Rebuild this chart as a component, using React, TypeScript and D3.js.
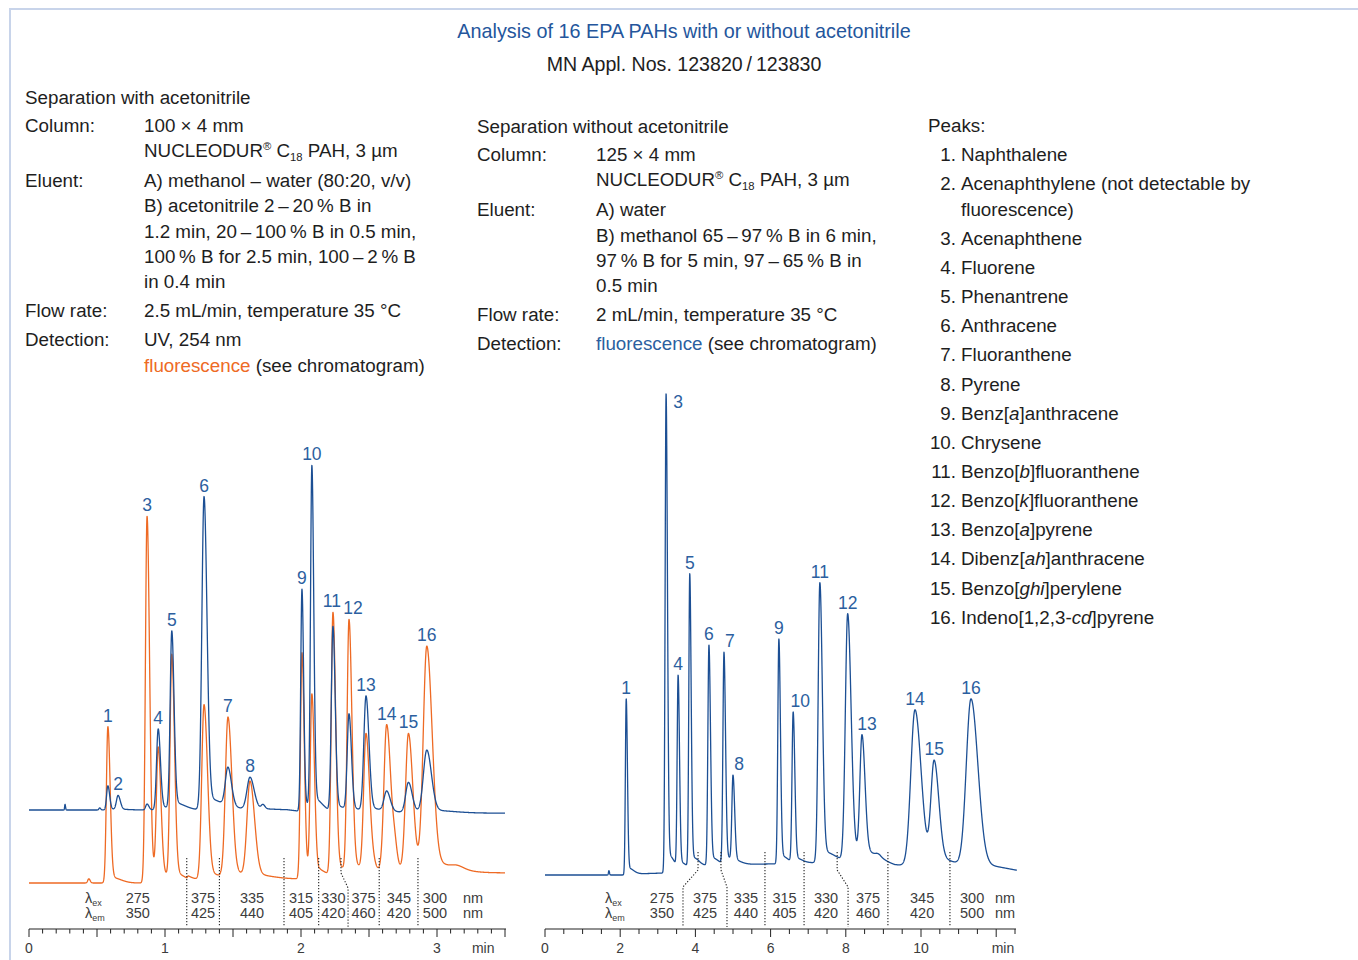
import React from "react";
import * as d3 from "d3";

const FONT = "'Liberation Sans', Arial, Helvetica, sans-serif";
const BLUE_TRACE = "#1c4f94";
const ORANGE_TRACE = "#ee6a24";
const LABEL_BLUE = "#2c5f9f";
const TITLE_BLUE = "#24569c";
const TEXT = "#1e1e1e";
const GREY = "#3c3c3c";
const BODY = 18.8;

// ---------- text content ----------
const titleText = "Analysis of 16 EPA PAHs with or without acetonitrile";
const subtitleText = "MN Appl. Nos. 123820\u2009/\u2009123830";

const leftInfoTitle = "Separation with acetonitrile";
const leftInfoLabels = ["Column:", "", "Eluent:", "", "", "", "", "Flow rate:", "Detection:", ""];
const leftInfoValues = [
  "100 × 4 mm",
  "NUCLEODUR^®^ C_18_ PAH, 3 µm",
  "A) methanol – water (80:20, v/v)",
  "B) acetonitrile 2\u2009–\u200920\u2009% B in",
  "1.2 min, 20\u2009–\u2009100\u2009% B in 0.5 min,",
  "100\u2009% B for 2.5 min, 100\u2009–\u20092\u2009% B",
  "in 0.4 min",
  "2.5 mL/min, temperature 35 °C",
  "UV, 254 nm",
  "{fluorescence} (see chromatogram)",
];
const leftInfoRowY = [132, 157, 187, 212, 238, 263, 288, 317, 346, 372];

const midInfoTitle = "Separation without acetonitrile";
const midInfoLabels = ["Column:", "", "Eluent:", "", "", "", "Flow rate:", "Detection:"];
const midInfoValues = [
  "125 × 4 mm",
  "NUCLEODUR^®^ C_18_ PAH, 3 µm",
  "A) water",
  "B) methanol 65\u2009–\u200997\u2009% B in 6 min,",
  "97\u2009% B for 5 min, 97\u2009–\u200965\u2009% B in",
  "0.5 min",
  "2 mL/min, temperature 35 °C",
  "{fluorescence} (see chromatogram)",
];
const midInfoRowY = [161, 186, 216, 242, 267, 292, 321, 350];

const peakNumbers = d3.range(1, 17);
const peakNames = [
  "Naphthalene",
  "Acenaphthylene (not detectable by",
  "Acenaphthene",
  "Fluorene",
  "Phenantrene",
  "Anthracene",
  "Fluoranthene",
  "Pyrene",
  "Benz[*a*]anthracene",
  "Chrysene",
  "Benzo[*b*]fluoranthene",
  "Benzo[*k*]fluoranthene",
  "Benzo[*a*]pyrene",
  "Dibenz[*ah*]anthracene",
  "Benzo[*ghi*]perylene",
  "Indeno[1,2,3-*cd*]pyrene",
];
const peakNameContinuation = "fluorescence)";
const peakRowY = [161, 190, 245, 274, 303, 332, 361, 391, 420, 449, 478, 507, 536, 565, 595, 624];

// ---------- left chromatogram (with acetonitrile), time in min ----------
const leftRT = [0.58, 0.655, 0.868, 0.95, 1.05, 1.287, 1.463, 1.625, 2.007, 2.08, 2.235, 2.353, 2.478, 2.63, 2.79, 2.925];
const leftUV = [6.9, 4.0, 1.7, 23.1, 50.6, 89.4, 11.1, 9.1, 63.4, 97.6, 52.9, 27.4, 32.9, 5.7, 8.6, 17.7];
const leftFLD = [44.6, 0, 104.6, 36.0, 64.0, 50, 45.5, 27.0, 64.5, 51.0, 75.0, 71.8, 39.0, 41.9, 38.9, 63.4];
const leftSigUV = [0.0095, 0.012, 0.01, 0.012, 0.012, 0.016, 0.019, 0.022, 0.009, 0.01, 0.012, 0.013, 0.016, 0.019, 0.02, 0.025];
const leftSigFLD = [0.011, 0.012, 0.012, 0.013, 0.013, 0.017, 0.019, 0.022, 0.011, 0.012, 0.013, 0.014, 0.017, 0.02, 0.021, 0.026];
const leftUVBaseT = [0, 1.9, 2.1, 3.5];
const leftUVBaseV = [0, 0, -0.8, -0.9];
const leftUVMinorT = [0.265, 0.52, 1.72];
const leftUVMinorH = [1.6, 0.6, 1.2];
const leftUVMinorS = [0.003, 0.006, 0.012];
const leftFLDBaseT = [0, 1.16, 1.17, 1.4, 1.41, 1.875, 2.13, 2.14, 2.32, 2.58, 2.86, 3.5];
const leftFLDBaseV = [0, 0, 0.8, 0.8, 1.1, 1.1, 1.2, 1.7, 1.9, 2.4, 2.9, 2.9];
const leftFLDMinorT = [0.44, 2.53, 2.69, 3.15];
const leftFLDMinorH = [1.2, 1.5, 5.0, 0.8];
const leftFLDMinorS = [0.008, 0.015, 0.015, 0.04];
const leftSwitchTop = [1.16, 1.4, 1.875, 2.13, 2.294, 2.575, 2.86];
const leftSwitchBottom = [1.16, 1.4, 1.875, 2.13, 2.346, 2.575, 2.86];
const leftExLabels = ["275", "375", "335", "315", "330", "375", "345", "300"];
const leftEmLabels = ["350", "425", "440", "405", "420", "460", "420", "500"];
const leftTableT = [0.8, 1.28, 1.64, 2.0, 2.238, 2.46, 2.72, 2.985];
const leftTickLabels = ["0", "1", "2", "3"];

// ---------- right chromatogram (without acetonitrile) ----------
const rightRT = [2.16, 2.9, 3.22, 3.54, 3.85, 4.36, 4.76, 5.0, 6.22, 6.6, 7.31, 8.05, 8.43, 9.84, 10.35, 11.33];
const rightFLD = [36.8, 0, 100, 40.0, 61.2, 46.0, 44.2, 17.8, 47.0, 31.4, 58.4, 51.5, 24.8, 32.6, 21.0, 35.2];
const rightSig = [0.022, 0.03, 0.025, 0.025, 0.025, 0.028, 0.028, 0.03, 0.028, 0.03, 0.045, 0.062, 0.055, 0.11, 0.085, 0.125];
const rightBaseT = [0, 2.15, 2.3, 3.1, 3.95, 4.07, 4.68, 5.85, 6.89, 7.5, 7.77, 8.9, 9.12, 9.3, 10.77, 11.9, 12.55];
const rightBaseV = [0, 0, 0.2, 0.4, 1.5, 1.9, 2.1, 2.3, 2.4, 2.8, 2.9, 3.1, 2.5, 2.1, 1.6, 0.7, 0.4];
const rightMinorT = [1.7, 8.85];
const rightMinorH = [0.9, 0.4];
const rightMinorS = [0.012, 0.06];
const rightSwitchTop = [4.07, 4.68, 5.85, 6.89, 7.77, 9.12, 10.77];
const rightSwitchBottom = [3.67, 4.84, 5.85, 6.89, 8.06, 9.12, 10.77];
const rightExLabels = ["275", "375", "335", "315", "330", "375", "345", "300"];
const rightEmLabels = ["350", "425", "440", "405", "420", "460", "420", "500"];
const rightTableT = [3.11, 4.255, 5.345, 6.37, 7.475, 8.59, 10.03, 11.36];
const rightTickLabels = ["0", "2", "4", "6", "8", "10"];

// label nudges (px) for crowded peaks
const leftLabelDx = [0, 0, 0, 0, 0, 0, 0, 0, 0, 0, -1, 4, 0, 0, 0, 0];
const rightLabelDx = [0, 0, 12, 0, 0, 0, 6, 6, 0, 7, 0, 0, 5, 0, 0, 0];

// ---------- helpers ----------
function interp(T: number[], V: number[], t: number) {
  if (t <= T[0]) return V[0];
  for (let i = 1; i < T.length; i++) {
    if (t <= T[i]) {
      const f = (t - T[i - 1]) / (T[i] - T[i - 1]);
      return V[i - 1] + f * (V[i] - V[i - 1]);
    }
  }
  return V[V.length - 1];
}

function asymGauss(dt: number, h: number, sl: number, sr: number) {
  const s = dt < 0 ? sl : sr;
  return h * Math.exp(-(dt * dt) / (2 * s * s));
}

type TraceSpec = {
  rt: number[]; h: number[]; sig: number[]; tail: number;
  baseT: number[]; baseV: number[];
  mT: number[]; mH: number[]; mS: number[];
};

function signal(spec: TraceSpec, t: number) {
  let y = interp(spec.baseT, spec.baseV, t);
  for (let i = 0; i < spec.rt.length; i++) {
    if (spec.h[i] <= 0) continue;
    const dt = t - spec.rt[i];
    const s = spec.sig[i];
    y += asymGauss(dt, spec.h[i], s, s * spec.tail);
    // low, slow tail behind the apex
    y += asymGauss(dt - 2.5 * s, spec.h[i] * 0.035, s, s * 6);
  }
  for (let i = 0; i < spec.mT.length; i++) {
    y += asymGauss(t - spec.mT[i], spec.mH[i], spec.mS[i], spec.mS[i] * 1.2);
  }
  return y;
}

function sample(spec: TraceSpec, t0: number, t1: number, n: number): [number, number][] {
  return d3.range(n + 1).map((i) => {
    const t = t0 + ((t1 - t0) * i) / n;
    return [t, signal(spec, t)] as [number, number];
  });
}

function Rich({ text, x, y, size, fill, hi, anchor }: { text: string; x: number; y: number; size: number; fill: string; hi?: string; anchor?: string }) {
  const parts = text.split(/(\^[^^]*\^|_[^_]*_|\*[^*]*\*|\{[^}]*\})/).filter((p) => p.length > 0);
  let cur = 0;
  return (
    <text x={x} y={y} fontSize={size} fill={fill} fontFamily={FONT} textAnchor={anchor || "start"}>
      {parts.map((p, i) => {
        let shift = 0;
        let content = p;
        let fs: number | undefined = undefined;
        let style: string | undefined = undefined;
        let col: string | undefined = undefined;
        if (p.startsWith("^")) { shift = -7; content = p.slice(1, -1); fs = size * 0.6; }
        else if (p.startsWith("_")) { shift = 4; content = p.slice(1, -1); fs = size * 0.6; }
        else if (p.startsWith("*")) { content = p.slice(1, -1); style = "italic"; }
        else if (p.startsWith("{")) { content = p.slice(1, -1); col = hi; }
        const dy = shift - cur;
        cur = shift;
        return (
          <tspan key={i} dy={dy !== 0 ? dy : undefined} fontSize={fs} fontStyle={style} fill={col}>
            {content}
          </tspan>
        );
      })}
    </text>
  );
}

function Lambda({ x, y, sub }: { x: number; y: number; sub: string }) {
  return (
    <text x={x} y={y} fontSize={14.5} fill={GREY} fontFamily={FONT}>
      λ<tspan fontSize={9} dy={3}>{sub}</tspan>
    </text>
  );
}

function dottedPath(xTop: number, xBot: number, yTop: number, yK1: number, yK2: number, yBot: number) {
  if (Math.abs(xTop - xBot) < 0.5) return `M${xTop},${yTop}V${yBot}`;
  return `M${xTop},${yTop}V${yK1}L${xBot},${yK2}V${yBot}`;
}

export default function App() {
  // scales
  const lx = d3.scaleLinear().domain([0, 3.5]).range([29, 505]);
  const lyUV = d3.scaleLinear().domain([0, 100]).range([810, 460]);
  const lyFLD = d3.scaleLinear().domain([0, 100]).range([883, 533]);
  const rx = d3.scaleLinear().domain([0, 12.5]).range([545, 1015]);
  const ry = d3.scaleLinear().domain([0, 100]).range([875, 397]);

  const uvSpec: TraceSpec = { rt: leftRT, h: leftUV, sig: leftSigUV, tail: 1.35, baseT: leftUVBaseT, baseV: leftUVBaseV, mT: leftUVMinorT, mH: leftUVMinorH, mS: leftUVMinorS };
  const fldSpec: TraceSpec = { rt: leftRT, h: leftFLD, sig: leftSigFLD, tail: 1.5, baseT: leftFLDBaseT, baseV: leftFLDBaseV, mT: leftFLDMinorT, mH: leftFLDMinorH, mS: leftFLDMinorS };
  const rSpec: TraceSpec = { rt: rightRT, h: rightFLD, sig: rightSig, tail: 1.45, baseT: rightBaseT, baseV: rightBaseV, mT: rightMinorT, mH: rightMinorH, mS: rightMinorS };

  const uvData = sample(uvSpec, 0, 3.5, 4000);
  const fldData = sample(fldSpec, 0, 3.5, 4000);
  const rData = sample(rSpec, 0, 12.55, 4000);

  const lineUV = d3.line<[number, number]>().x((d) => lx(d[0])).y((d) => lyUV(d[1]));
  const lineFLD = d3.line<[number, number]>().x((d) => lx(d[0])).y((d) => lyFLD(d[1]));
  const lineR = d3.line<[number, number]>().x((d) => rx(d[0])).y((d) => ry(d[1]));

  const peakTop = (spec: TraceSpec, i: number) => {
    let m = -Infinity;
    for (let k = -20; k <= 20; k++) m = Math.max(m, signal(spec, spec.rt[i] + (k * spec.sig[i]) / 20));
    return m;
  };

  const leftLabels = peakNumbers.map((n, i) => {
    const yUV = lyUV(peakTop(uvSpec, i));
    const yF = leftFLD[i] > 0 ? lyFLD(peakTop(fldSpec, i)) : Infinity;
    const top = Math.min(yUV, yF);
    return { n, x: lx(leftRT[i]) + leftLabelDx[i], y: top - 5 };
  });
  const rightLabels = peakNumbers
    .map((n, i) => {
      if (rightFLD[i] <= 0) return null;
      const top = ry(peakTop(rSpec, i));
      const y = n === 3 ? top + 14 : top - 5;
      return { n, x: rx(rightRT[i]) + rightLabelDx[i], y };
    })
    .filter((d) => d !== null) as { n: number; x: number; y: number }[];

  const axisY = 929;
  const leftTicks = d3.range(0, 36).map((k) => k / 10);
  const rightTicks = d3.range(0, 26).map((k) => k / 2);

  return (
    <svg width={1358} height={960} viewBox="0 0 1358 960" style={{ position: "absolute", left: 0, top: 0, display: "block", background: "#fff" }} fontFamily={FONT}>
      {/* frame */}
      <path d="M10,960V9H1358" fill="none" stroke="#c8d4ea" strokeWidth={2} />

      {/* titles */}
      <text x={684} y={38} textAnchor="middle" fontSize={19.8} fill={TITLE_BLUE}>{titleText}</text>
      <text x={684} y={71} textAnchor="middle" fontSize={19.6} fill={TEXT}>{subtitleText}</text>

      {/* left info block */}
      <text x={25} y={104} fontSize={BODY} fill={TEXT}>{leftInfoTitle}</text>
      {leftInfoValues.map((v, i) => (
        <g key={"li" + i}>
          {leftInfoLabels[i] && <text x={25} y={leftInfoRowY[i]} fontSize={BODY} fill={TEXT}>{leftInfoLabels[i]}</text>}
          <Rich text={v} x={144} y={leftInfoRowY[i]} size={BODY} fill={TEXT} hi={ORANGE_TRACE} />
        </g>
      ))}

      {/* middle info block */}
      <text x={477} y={133} fontSize={BODY} fill={TEXT}>{midInfoTitle}</text>
      {midInfoValues.map((v, i) => (
        <g key={"mi" + i}>
          {midInfoLabels[i] && <text x={477} y={midInfoRowY[i]} fontSize={BODY} fill={TEXT}>{midInfoLabels[i]}</text>}
          <Rich text={v} x={596} y={midInfoRowY[i]} size={BODY} fill={TEXT} hi={LABEL_BLUE} />
        </g>
      ))}

      {/* peaks list */}
      <text x={928} y={132} fontSize={BODY} fill={TEXT}>Peaks:</text>
      {peakNames.map((name, i) => (
        <g key={"pk" + i}>
          <text x={956} y={peakRowY[i]} fontSize={BODY} fill={TEXT} textAnchor="end">{peakNumbers[i] + "."}</text>
          <Rich text={name} x={961} y={peakRowY[i]} size={BODY} fill={TEXT} />
        </g>
      ))}
      <text x={961} y={216} fontSize={BODY} fill={TEXT}>{peakNameContinuation}</text>

      {/* left chromatogram */}
      <path d={lineFLD(fldData) || ""} fill="none" stroke={ORANGE_TRACE} strokeWidth={1.3} strokeLinejoin="round" />
      <path d={lineUV(uvData) || ""} fill="none" stroke={BLUE_TRACE} strokeWidth={1.3} strokeLinejoin="round" />
      {leftLabels.map((d) => (
        <text key={"ll" + d.n} x={d.x} y={d.y} textAnchor="middle" fontSize={17.5} fill={LABEL_BLUE}>{d.n}</text>
      ))}
      {leftSwitchTop.map((t, i) => (
        <path key={"lsw" + i} d={dottedPath(lx(t), lx(leftSwitchBottom[i]), 858, 873, 888, 927)} fill="none" stroke="#222" strokeWidth={1.1} strokeDasharray="1.3 1.7" />
      ))}
      <Lambda x={85} y={903} sub="ex" />
      <Lambda x={85} y={918} sub="em" />
      {leftTableT.map((t, i) => (
        <g key={"lt" + i}>
          <text x={lx(t)} y={903} textAnchor="middle" fontSize={14.5} fill={GREY}>{leftExLabels[i]}</text>
          <text x={lx(t)} y={918} textAnchor="middle" fontSize={14.5} fill={GREY}>{leftEmLabels[i]}</text>
        </g>
      ))}
      <text x={463} y={903} fontSize={14.5} fill={GREY}>nm</text>
      <text x={463} y={918} fontSize={14.5} fill={GREY}>nm</text>
      <line x1={lx(0)} x2={lx(3.5) + 1} y1={axisY} y2={axisY} stroke="#222" strokeWidth={1.2} />
      {leftTicks.map((t) => {
        const major = Math.abs(t * 2 - Math.round(t * 2)) < 1e-6;
        return <line key={"ltk" + t} x1={lx(t)} x2={lx(t)} y1={axisY} y2={axisY + (major ? 8 : 4.5)} stroke="#222" strokeWidth={1} />;
      })}
      {leftTickLabels.map((s, i) => (
        <text key={"ltl" + s} x={lx(i)} y={953} textAnchor="middle" fontSize={14} fill={GREY}>{s}</text>
      ))}
      <text x={lx(3.34)} y={953} textAnchor="middle" fontSize={14} fill={GREY}>min</text>

      {/* right chromatogram */}
      <path d={lineR(rData) || ""} fill="none" stroke={BLUE_TRACE} strokeWidth={1.3} strokeLinejoin="round" />
      {rightLabels.map((d) => (
        <text key={"rl" + d.n} x={d.x} y={d.y} textAnchor="middle" fontSize={17.5} fill={LABEL_BLUE}>{d.n}</text>
      ))}
      {rightSwitchTop.map((t, i) => (
        <path key={"rsw" + i} d={dottedPath(rx(t), rx(rightSwitchBottom[i]), 852, 870, 887, 927)} fill="none" stroke="#222" strokeWidth={1.1} strokeDasharray="1.3 1.7" />
      ))}
      <Lambda x={605} y={903} sub="ex" />
      <Lambda x={605} y={918} sub="em" />
      {rightTableT.map((t, i) => (
        <g key={"rt" + i}>
          <text x={rx(t)} y={903} textAnchor="middle" fontSize={14.5} fill={GREY}>{rightExLabels[i]}</text>
          <text x={rx(t)} y={918} textAnchor="middle" fontSize={14.5} fill={GREY}>{rightEmLabels[i]}</text>
        </g>
      ))}
      <text x={995} y={903} fontSize={14.5} fill={GREY}>nm</text>
      <text x={995} y={918} fontSize={14.5} fill={GREY}>nm</text>
      <line x1={rx(0)} x2={rx(12.5) + 1} y1={axisY} y2={axisY} stroke="#222" strokeWidth={1.2} />
      {rightTicks.map((t) => {
        const major = Math.abs(t / 2 - Math.round(t / 2)) < 1e-6;
        return <line key={"rtk" + t} x1={rx(t)} x2={rx(t)} y1={axisY} y2={axisY + (major ? 8 : 5)} stroke="#222" strokeWidth={1} />;
      })}
      {rightTickLabels.map((s, i) => (
        <text key={"rtl" + s} x={rx(i * 2)} y={953} textAnchor="middle" fontSize={14} fill={GREY}>{s}</text>
      ))}
      <text x={rx(12.18)} y={953} textAnchor="middle" fontSize={14} fill={GREY}>min</text>
    </svg>
  );
}
